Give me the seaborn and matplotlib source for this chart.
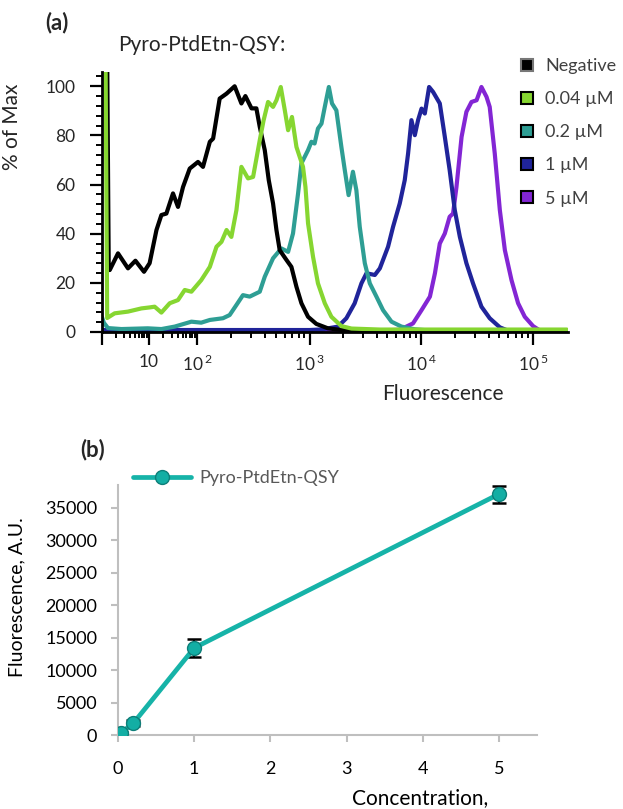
import numpy as np
import pandas as pd
import matplotlib
matplotlib.use("Agg")
import matplotlib.pyplot as plt
from matplotlib.lines import Line2D
from matplotlib.ticker import FixedLocator, NullFormatter
import seaborn as sns

sns.set_theme(style="ticks")
plt.rcParams['font.family'] = ['Lato', 'DejaVu Sans']
plt.rcParams['mathtext.fontset'] = 'custom'
plt.rcParams['mathtext.rm'] = 'Lato'

# ---- panel (a): flow histograms, fluorescence vs % of max ----
neg_x = [1.0, 1.09, 1.39, 1.46, 2.19, 3.57, 5.14, 7.83, 10.3, 14.3, 18.1, 23.0, 31.6, 40.2, 51.1,
         70.5, 102, 113, 130, 139, 159, 183, 216, 248, 269, 305, 337, 361, 400, 434, 474, 508,
         543, 624, 690, 765, 847, 970, 1150, 1460, 1930, 2800, 200000]
neg_y = [300, 300, 27, 25.2, 32, 25.9, 29, 24.5, 28, 41.5, 47.6, 48.2, 56.4, 50.9, 59,
         66.5, 69.2, 67.2, 77.4, 78.7, 95, 97, 100, 93, 96, 91, 91, 83.5, 74, 61.8, 52.3, 41.5,
         33.3, 29.3, 26.5, 18.4, 11.7, 6.2, 3.3, 1.5, 0.8, 0.4, 0.4]

c004_x = [1.0, 1.03, 1.29, 1.86, 3.57, 6.89, 10.3, 13.1, 18.1, 27.0, 40.2, 55.5, 76.4, 109, 130,
          149, 165, 183, 202, 224, 248, 284, 315, 361, 390, 428, 474, 508, 555, 603, 645, 698,
          765, 875, 920, 970, 1075, 1190, 1370, 1570, 1930, 2380, 4270, 200000]
c004_y = [300, 300, 5.7, 7.6, 8.3, 9.6, 10, 10.3, 7.9, 11.7, 13, 17.1, 16.4, 21.1, 26.5,
          34.7, 36.7, 41.5, 38.7, 49.6, 67.2, 62.5, 63.1, 78, 86, 93.6, 91.6, 94.3, 99.7, 90.2, 82.1, 87.5,
          75.3, 67.2, 59, 44.2, 30.6, 19.8, 11.7, 6.2, 2.4, 1.4, 1.0, 1.0]

c02_x = [1.0, 1.1, 1.34, 2.59, 9.4, 18.1, 34.3, 76.4, 109, 130, 170, 195, 224, 256, 294, 361, 400,
         474, 562, 645, 713, 791, 847, 970, 1040, 1110, 1190, 1280, 1370, 1490, 1590, 1740, 1930,
         2070, 2240, 2450, 2630, 2820, 3130, 3470, 3980, 4560, 5430, 6670, 8790, 12000, 200000]
c02_y = [6, 3.7, 1.6, 1.2, 1.5, 1.2, 2.2, 4.2, 3.8, 4.9, 5.6, 6.9, 11, 15, 14.4, 16.4, 22.5,
         30, 34, 32.6, 40.1, 56.4, 68.6, 74, 77.4, 76.7, 82.8, 84.8, 91.6, 99.7, 93, 90.2, 75.3,
         65.9, 55.7, 65.2, 57.7, 42.8, 28, 19.8, 14.4, 8.9, 4.2, 2.2, 1.1, 0.6, 0.6]

c1_x = [1.0, 1000, 1230, 1470, 1800, 2140, 2540, 2920, 3240, 3850, 4270, 4560, 5060, 5610, 6440,
        7140, 7650, 8200, 8790, 9400, 10100, 10800, 11800, 12800, 14700, 16300, 18000, 20000,
        22200, 25400, 29100, 34600, 41000, 50500, 57900, 68700, 200000]
c1_y = [0.8, 0.8, 1.0, 1.5, 2.2, 5.6, 11.7, 19.8, 23.9, 23.2, 25.9, 29.3, 34.7, 42.8, 52.3,
        61.8, 72.6, 86.2, 80.1, 86.2, 90.9, 88.9, 99.7, 97.7, 93, 79.4, 65.9, 49.6,
        38.7, 28, 19.8, 10.3, 5.6, 1.9, 0.8, 0.6, 0.6]

c5_x = [1.0, 4270, 6440, 8470, 10100, 12000, 13300, 14700, 16300, 18000, 19300, 20700, 23000,
        25400, 28200, 31300, 34600, 38400, 41000, 45500, 50500, 56000, 64200, 73500, 84300,
        100000, 115000, 200000]
c5_y = [0.6, 0.6, 0.9, 3.5, 8.9, 14.4, 23.9, 36, 40.1, 46.9, 48.2, 59, 79.4,
        89.6, 93.6, 94.3, 99.7, 95.7, 91.6, 72.6, 49.6, 33.3, 21.1, 11.7, 6.2,
        2.4, 0.6, 0.6]

samples = ['Negative', '0.04 µM', '0.2 µM', '1 µM', '5 µM']
colors = ['#000000', '#86D631', '#2E9E94', '#20249A', '#8326D4']

# ---- panel (b): mean fluorescence vs concentration ----
conc = [0, 0.04, 0.2, 1, 5]
fluo = [100, 350, 1800, 13400, 37100]
fluo_err = [80, 120, 450, 1400, 1300]

# display of the flow axis: decades 1-10 and 10-100 are squeezed
dec_log = [0, 1, 2, 3, 4, 5, 6]
dec_pos = [0, 47, 95, 207.5, 319, 431, 543]


def fwd(x):
    x = np.clip(np.asarray(x, dtype=float), 1e-6, None)
    return np.interp(np.log10(x), dec_log, dec_pos)


def inv(p):
    return 10 ** np.interp(np.asarray(p, dtype=float), dec_pos, dec_log)


rows = []
for name, xs, ys in zip(samples, [neg_x, c004_x, c02_x, c1_x, c5_x],
                        [neg_y, c004_y, c02_y, c1_y, c5_y]):
    for xv, yv in zip(xs, ys):
        rows.append((name, xv, yv))
hist = pd.DataFrame(rows, columns=['sample', 'fluor', 'pct'])

fig = plt.figure(figsize=(6.23, 8.09), dpi=100)

ax1 = fig.add_axes([102 / 623, 1 - 332 / 809, 466 / 623, 260 / 809])
ax1.set_xscale('function', functions=(fwd, inv))
sns.lineplot(data=hist, x='fluor', y='pct', hue='sample',
             hue_order=['5 µM', '1 µM', '0.2 µM', 'Negative', '0.04 µM'],
             palette=dict(zip(samples, colors)), estimator=None, sort=False,
             linewidth=3.0, legend=False, ax=ax1)
for ln in ax1.get_lines():
    ln.set_solid_joinstyle('round')
    ln.set_solid_capstyle('round')
ax1.set_xlim(1, 2.05e5)
ax1.set_ylim(0, 105.8)

ax1.xaxis.set_major_locator(FixedLocator([1, 10, 100, 1e3, 1e4, 1e5]))
ax1.set_xticklabels(['', '10', r'$10^{\,2}$', r'$10^{\,3}$', r'$10^{\,4}$', r'$10^{\,5}$'])
minors = [k * 10 ** n for n in range(0, 5) for k in range(2, 10)]
ax1.xaxis.set_minor_locator(FixedLocator(minors))
ax1.xaxis.set_minor_formatter(NullFormatter())
ax1.set_yticks([0, 20, 40, 60, 80, 100])
ax1.yaxis.set_minor_locator(FixedLocator([v for v in range(0, 105, 4) if v % 20]))
ax1.tick_params(which='major', length=9, width=1.6, colors='black', labelsize=12.5,
                labelcolor='#262626')
ax1.tick_params(which='minor', length=4, width=1.4, colors='black')
ax1.tick_params(axis='y', which='major', pad=10)
ax1.tick_params(axis='x', which='major', pad=7)
for s in ['top', 'right']:
    ax1.spines[s].set_visible(False)
for s in ['left', 'bottom']:
    ax1.spines[s].set_linewidth(2.0)
    ax1.spines[s].set_color('black')
ax1.set_xlabel('Fluorescence', fontsize=15, color='#262626')
ax1.xaxis.set_label_coords(341 / 466, -52 / 260)
ax1.set_ylabel('% of Max', fontsize=15, color='#262626')
ax1.yaxis.set_label_coords(-80 / 466, 205 / 260)

handles = []
for name, col in zip(samples, colors):
    handles.append(Line2D([], [], ls='', marker='s', markersize=9, markerfacecolor=col,
                          markeredgecolor='#777777' if name == 'Negative' else 'black',
                          markeredgewidth=1.5))
fig.legend(handles, samples, loc='upper left', bbox_to_anchor=(518 / 623, 1 - 58 / 809),
           bbox_transform=fig.transFigure, frameon=False, fontsize=13,
           handlelength=1.0, handletextpad=0.5, labelspacing=0.95, borderpad=0,
           borderaxespad=0, labelcolor='#404040')

fig.text(45 / 623, 1 - 23 / 809, '(a)', fontsize=16, fontweight='bold', va='center')
fig.text(118 / 623, 1 - 45 / 809, 'Pyro-PtdEtn-QSY:', fontsize=15, color='#262626',
         va='center')

# ---- panel (b) ----
ax2 = fig.add_axes([118 / 623, 1 - 735 / 809, 419 / 623, 250 / 809])
ax2.errorbar(conc, fluo, yerr=fluo_err, fmt='none', ecolor='black', elinewidth=1.5,
             capsize=5, capthick=1.8, zorder=1)
sns.lineplot(x=conc, y=fluo, ax=ax2, color='#16B3A8', linewidth=3.4, marker='o',
             markersize=10, markerfacecolor='#13AEA4', markeredgecolor='#0E7F79',
             markeredgewidth=1.0, label='Pyro-PtdEtn-QSY', zorder=3)
ax2.set_xlim(0, 5.5)
ax2.set_ylim(0, 38500)
ax2.set_xticks(range(6))
ax2.set_yticks(range(0, 35001, 5000))
for s in ['top', 'right']:
    ax2.spines[s].set_visible(False)
for s in ['left', 'bottom']:
    ax2.spines[s].set_color('#BFBFBF')
    ax2.spines[s].set_linewidth(1.5)
ax2.tick_params(length=5, width=1.5, color='#BFBFBF', labelsize=13, labelcolor='black')
ax2.tick_params(axis='x', pad=14)
ax2.tick_params(axis='y', pad=10)
ax2.set_ylabel('Fluorescence, A.U.', fontsize=14, color='black')
ax2.yaxis.set_label_coords(-93 / 419, 0.552)
ax2.set_xlabel('')
ax2.legend(loc='center left', bbox_to_anchor=(133 / 623, 1 - 478 / 809),
           bbox_transform=fig.transFigure, frameon=False, fontsize=13, handlelength=3.2,
           handletextpad=0.45, borderpad=0, borderaxespad=0, labelcolor='#595959')

fig.text(80 / 623, 1 - 450 / 809, '(b)', fontsize=16, fontweight='bold', va='center')
fig.text(420 / 623, 1 - 798 / 809, 'Concentration,', fontsize=15, ha='center',
         va='center', color='black')

fig.savefig('out.png', dpi=100)
